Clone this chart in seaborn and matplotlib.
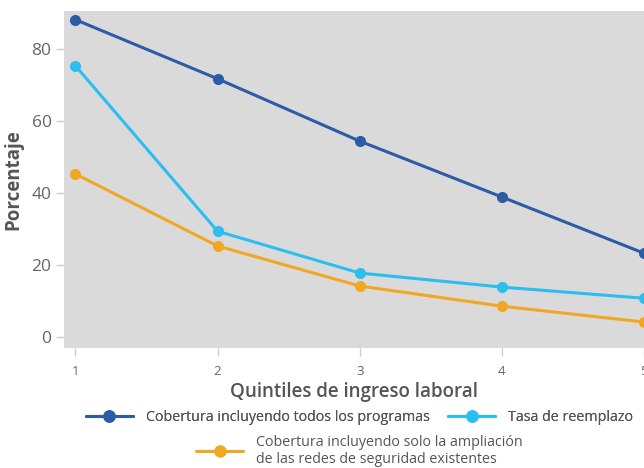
import pandas as pd
import numpy as np
import matplotlib.pyplot as plt
import seaborn as sns
from matplotlib.lines import Line2D

# Datos
quintiles = [1, 2, 3, 4, 5]
todos_programas = [88.1, 71.7, 54.4, 38.9, 23.3]
tasa_reemplazo = [75.3, 29.4, 17.8, 13.9, 10.8]
solo_redes = [45.3, 25.3, 14.2, 8.6, 4.2]

nombres = [
    "Cobertura incluyendo todos los programas",
    "Tasa de reemplazo",
    "Cobertura incluyendo solo la ampliación\nde las redes de seguridad existentes",
]
colores = ["#2D5BA6", "#2BBEEE", "#F0A823"]

df = pd.DataFrame({
    "Quintil": quintiles * 3,
    "Porcentaje": todos_programas + tasa_reemplazo + solo_redes,
    "Serie": [nombres[0]] * 5 + [nombres[1]] * 5 + [nombres[2]] * 5,
})

sns.set_style("white")
plt.rcParams["font.family"] = ["Open Sans", "DejaVu Sans"]
gris = "#555555"

fig = plt.figure(figsize=(6.44, 4.68), dpi=100)
ax = fig.add_axes([0.0994, 0.2564, 0.9006, 0.7201])
ax.set_facecolor("#DADADA")

sns.lineplot(data=df, x="Quintil", y="Porcentaje", hue="Serie",
             palette=dict(zip(nombres, colores)), marker="o",
             markersize=8, markeredgewidth=0, linewidth=2.2,
             legend=False, ax=ax)

ax.set_xlim(0.92, 5.0)
ax.set_ylim(-3, 90.5)
ax.set_xticks(quintiles)
ax.set_yticks([0, 20, 40, 60, 80])
for s in ax.spines.values():
    s.set_visible(False)
ax.tick_params(axis="both", colors="#CCCCCC", labelcolor="#666666",
               length=6, width=1, direction="out", left=True, bottom=True)
ax.tick_params(axis="y", labelsize=12.5, pad=3)
ax.tick_params(axis="x", labelsize=9.5, pad=6)
ax.set_xlabel("Quintiles de ingreso laboral", fontsize=13.5, color=gris,
              fontweight="semibold", labelpad=3)
ax.set_ylabel("Porcentaje", fontsize=13.5, color=gris, fontweight="bold",
              labelpad=6)

handles = [Line2D([0], [0], color=c, marker="o", markersize=8, linewidth=2.2)
           for c in colores]
leg1 = fig.legend(handles[:2], nombres[:2], loc="center", ncol=2,
                  bbox_to_anchor=(0.558, 0.107), frameon=False, fontsize=10.3,
                  labelcolor=gris, handlelength=3.3, columnspacing=1.3,
                  handletextpad=0.9)
fig.add_artist(leg1)
fig.legend(handles[2:], nombres[2:], loc="center",
           bbox_to_anchor=(0.558, 0.037), frameon=False, fontsize=10.3,
           labelcolor=gris, handlelength=3.3, handletextpad=0.9)

fig.savefig("out.png", dpi=100)
